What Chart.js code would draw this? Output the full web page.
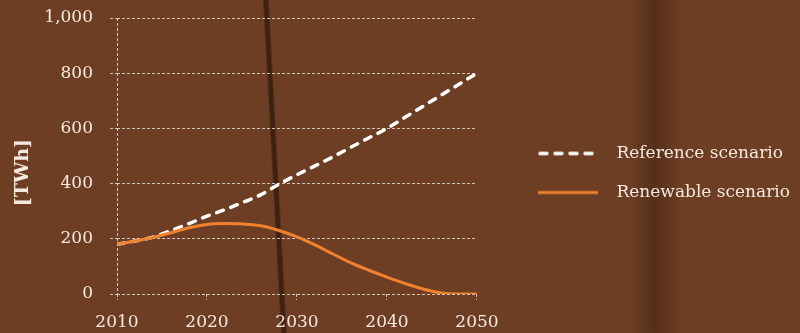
<!DOCTYPE html>
<html>
<head>
<meta charset="utf-8">
<title>Electricity demand scenarios</title>
<script src="https://cdn.jsdelivr.net/npm/chart.js@4.4.0/dist/chart.umd.min.js"></script>
<style>
  html, body { margin: 0; padding: 0; }
  body {
    width: 800px; height: 333px; overflow: hidden;
    background-color: #6d3e24;
    background-image:
      linear-gradient(86.9deg, transparent 280px, rgba(40,20,9,0.7) 282px, rgba(40,20,9,0.7) 285px, transparent 287px),
      linear-gradient(90deg, transparent 630px, rgba(50,25,12,0.25) 645px, rgba(50,25,12,0.4) 655px, rgba(50,25,12,0.25) 665px, transparent 682px);
  }
  #wrap { position: relative; width: 800px; height: 333px; }
</style>
</head>
<body>
<div id="wrap"><canvas id="demandChart"></canvas></div>
<script>
// ---- Data ----
const years = [2010, 2012, 2014, 2016, 2018, 2020, 2022, 2024, 2026, 2028, 2030,
               2032, 2034, 2036, 2038, 2040, 2042, 2044, 2046, 2048, 2050];
const referenceTWh = [180, 192, 206, 230, 255, 282, 306, 332, 360, 398, 432,
                      464, 497, 532, 566, 600, 640, 680, 720, 760, 800];
const renewableTWh = [180, 192, 205, 222, 240, 252, 255, 254, 247, 230, 207,
                      178, 145, 113, 86, 61, 38, 18, 4, 0, 0];
const seriesNames = ['Reference scenario', 'Renewable scenario'];
const yearTicks = [2010, 2020, 2030, 2040, 2050];

// ---- Style ----
const textColor = '#f3e9df';
const gridColor = 'rgba(230,220,210,0.85)';
const orange = '#f0822f';
const serif = 'DejaVu Serif';

// legend swatch: line on the left, empty gap on the right
function legendIcon(color, width, dash) {
  const c = document.createElement('canvas');
  c.width = 70; c.height = 6;
  const g = c.getContext('2d');
  g.strokeStyle = color;
  g.lineWidth = width;
  g.lineCap = dash.length ? 'round' : 'butt';
  g.setLineDash(dash);
  g.beginPath();
  g.moveTo(dash.length ? 2 : 0, 3);
  g.lineTo(60, 3);
  g.stroke();
  return c;
}
const icons = [legendIcon('#ffffff', 3.5, [7, 8]), legendIcon(orange, 3, [])];

const toPoints = vals => years.map((y, i) => ({ x: y, y: vals[i] }));

new Chart(document.getElementById('demandChart'), {
  type: 'line',
  data: {
    datasets: [
      {
        label: seriesNames[0],
        data: toPoints(referenceTWh),
        borderColor: '#ffffff',
        borderWidth: 3.5,
        borderDash: [7, 8],
        borderCapStyle: 'round',
        pointRadius: 0,
        cubicInterpolationMode: 'monotone',
        fill: false,
        order: 2
      },
      {
        label: seriesNames[1],
        data: toPoints(renewableTWh),
        borderColor: orange,
        borderWidth: 3,
        pointRadius: 0,
        cubicInterpolationMode: 'monotone',
        fill: false,
        order: 1   // drawn on top of the dashed line
      }
    ]
  },
  options: {
    responsive: true,
    maintainAspectRatio: false,
    animation: false,
    layout: { padding: { left: 9, top: 13, right: 0, bottom: 0 } },
    plugins: {
      tooltip: { enabled: false },
      legend: {
        position: 'right',
        align: 'center',
        maxWidth: 340,
        labels: {
          color: textColor,
          font: { family: serif, size: 17 },
          usePointStyle: true,
          pointStyleWidth: 70,
          padding: 22,
          sort: (a, b) => a.datasetIndex - b.datasetIndex,
          generateLabels: chart =>
            Chart.defaults.plugins.legend.labels.generateLabels(chart)
              .map(item => ({ ...item, pointStyle: icons[item.datasetIndex] }))
        }
      }
    },
    scales: {
      x: {
        type: 'linear',
        min: 2010,
        max: 2050,
        afterBuildTicks: axis => { axis.ticks = yearTicks.map(v => ({ value: v })); },
        afterFit: axis => { axis.height = 39; },
        ticks: {
          color: textColor,
          font: { family: serif, size: 17 },
          padding: 12,
          maxRotation: 0,
          callback: v => String(v)
        },
        grid: {
          color: ctx => (ctx.tick && ctx.tick.value === 2010) ? gridColor : 'transparent',
          tickColor: gridColor,
          tickLength: 6,
          tickBorderDash: [3, 2],
          lineWidth: 1
        },
        border: { display: false, dash: [3, 2] }
      },
      y: {
        min: 0,
        max: 1000,
        afterFit: axis => { axis.width = 108; axis.paddingTop = 18; },
        ticks: {
          stepSize: 200,
          color: textColor,
          font: { family: serif, size: 17 },
          padding: 17,
          callback: v => v.toLocaleString('en-US')
        },
        grid: {
          color: gridColor,
          tickColor: gridColor,
          tickLength: 7,
          tickBorderDash: [3, 2],
          lineWidth: 1
        },
        border: { display: false, dash: [3, 2] },
        title: {
          display: true,
          text: '[TWh]     ',
          color: textColor,
          font: { family: serif, size: 19, weight: 'bold' },
          padding: { top: 3, bottom: 4 }
        }
      },
      // empty spacer between the plot and the legend
      gap: {
        axis: 'y',
        type: 'linear',
        position: 'right',
        grid: { display: false },
        ticks: { display: false },
        border: { display: false },
        afterFit: axis => { axis.width = 39; }
      }
    }
  }
});
</script>
</body>
</html>
